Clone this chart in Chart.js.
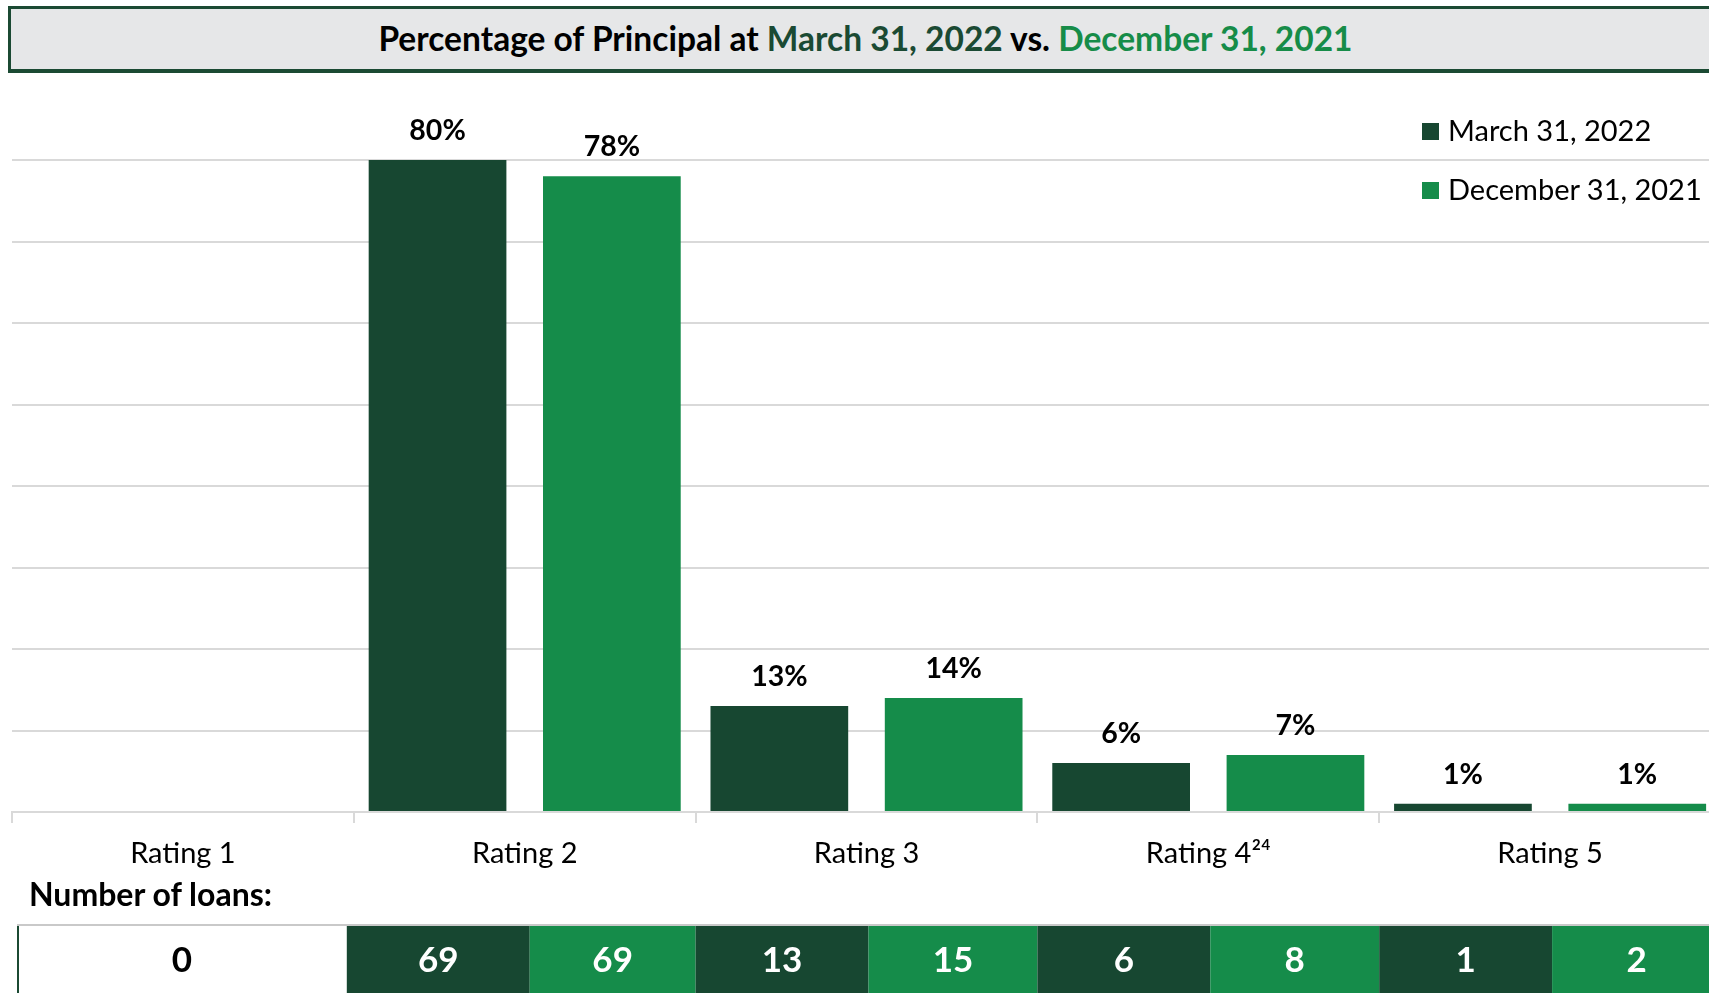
<!DOCTYPE html>
<html>
<head>
<meta charset="utf-8">
<script src="https://cdn.jsdelivr.net/npm/chart.js@4.4.1/dist/chart.umd.min.js"></script>
<style>
  html, body { margin: 0; padding: 0; background: #fff; overflow: hidden; width: 1709px; height: 993px; }
  #wrap { position: relative; width: 1709px; height: 993px; overflow: hidden; }
  #chart { position: absolute; left: 0; top: 0; }
  .title-box {
    position: absolute; left: 8px; top: 6px; width: 1720px; height: 60px;
    background: #e6e7e8; border: 3px solid #1b4a33; border-bottom-width: 4px;
    font-family: Lato, sans-serif; font-weight: bold; font-size: 33.5px;
    line-height: 60px; box-sizing: content-box;
  }
  .title-box span.t { position: absolute; left: 0; width: 1709px; text-align: center; top: -1px; color: #000; }
  .dark { color: #1a4a33; }
  .light { color: #168c48; }
  .legend { position: absolute; left: 1422px; font-family: Lato, sans-serif; font-size: 29px; color: #000; }
  .legend i { display: inline-block; width: 17px; height: 17px; margin-right: 9px; vertical-align: middle; position: relative; top: -2px; }
  .loans-title { position: absolute; left: 29px; top: 874px; font-family: Lato, sans-serif; font-weight: bold; font-size: 32px; color: #000; }
</style>
</head>
<body>
<div id="wrap">
  <canvas id="chart" width="1721" height="993" style="width:1721px;height:993px"></canvas>
  <div class="title-box"><span class="t">Percentage of Principal at <span class="dark">March 31, 2022</span> vs. <span class="light">December 31, 2021</span></span></div>
  <div class="legend" style="top:112px"><i style="background:#174731"></i>March 31, 2022</div>
  <div class="legend" style="top:171px"><i style="background:#158c4a"></i>December 31, 2021</div>
  <div class="loans-title">Number of loans:</div>
</div>
<script>
// values
const ratings = ['Rating 1', 'Rating 2', 'Rating 3', 'Rating 4\u00B2\u2074', 'Rating 5']
const pctMar2022 = [0, 80, 13, 6, 1]
const pctDec2021 = [0, 78, 14, 7, 1]
const loansMar2022 = [0, 69, 13, 6, 1]
const loansDec2021 = [0, 69, 15, 8, 2]
const yTicks = [0, 10, 20, 30, 40, 50, 60, 70, 80]

const DARK = '#174731'
const LIGHT = '#158c4a'

// percent labels above the bars
const barLabels = {
  id: 'barLabels',
  afterDatasetsDraw(chart) {
    const ctx = chart.ctx
    ctx.save()
    ctx.font = 'bold 28.5px Lato'
    ctx.fillStyle = '#000'
    ctx.textAlign = 'center'
    ctx.textBaseline = 'middle'
    chart.data.datasets.forEach((ds, di) => {
      chart.getDatasetMeta(di).data.forEach((bar, i) => {
        const v = ds.data[i]
        if (!v) return
        ctx.fillText(v + '%', bar.x, bar.y - 29)
      })
    })
    ctx.restore()
  }
}

// "Number of loans" row under the axis, cells follow the category scale
const loansRow = {
  id: 'loansRow',
  afterDraw(chart) {
    const ctx = chart.ctx
    const x = chart.scales.x
    const cw = x.getPixelForValue(1) - x.getPixelForValue(0)
    const top = 925, bottom = 1000
    // the first (empty) cell is a bit narrower than its category
    const firstEdge = x.getPixelForValue(0) + cw / 2 - 7
    ctx.save()
    ctx.font = 'bold 35px Lato'
    ctx.textAlign = 'center'
    ctx.textBaseline = 'middle'
    ratings.forEach((r, i) => {
      const c = x.getPixelForValue(i)
      let left = Math.max(c - cw / 2, 17)
      let right = c + cw / 2
      if (i === 0) right = firstEdge
      if (i === 1) left = firstEdge
      if (i === ratings.length - 1) right += 20
      if (!loansMar2022[i] && !loansDec2021[i]) {
        ctx.fillStyle = '#fff'
        ctx.fillRect(left, top, right - left, bottom - top)
        ctx.strokeStyle = '#1b4a33'
        ctx.lineWidth = 2
        ctx.beginPath()
        ctx.moveTo(left + 1, bottom)
        ctx.lineTo(left + 1, top)
        ctx.stroke()
        ctx.fillStyle = '#000'
        ctx.fillText(String(loansMar2022[i]), (left + right) / 2, 961)
        return
      }
      const mid = c + (i === 1 ? 5 : 2)
      const textRight = Math.min(right, c + cw / 2)
      ctx.fillStyle = DARK
      ctx.fillRect(left, top, mid - left, bottom - top)
      ctx.fillStyle = LIGHT
      ctx.fillRect(mid, top, right - mid, bottom - top)
      ctx.fillStyle = '#fff'
      ctx.fillText(String(loansMar2022[i]), (left + mid) / 2, 961)
      ctx.fillText(String(loansDec2021[i]), (mid + textRight) / 2, 961)
    })
    // thin line on top of the row
    ctx.strokeStyle = '#c9c9c9'
    ctx.lineWidth = 2
    ctx.beginPath()
    ctx.moveTo(17, top)
    ctx.lineTo(chart.width, top)
    ctx.stroke()
    ctx.restore()
  }
}

const data = {
  labels: ratings,
  datasets: [
    { label: 'March 31, 2022', data: pctMar2022, backgroundColor: DARK },
    { label: 'December 31, 2021', data: pctDec2021, backgroundColor: LIGHT }
  ]
}

const config = {
  type: 'bar',
  data: data,
  options: {
    responsive: false,
    animation: false,
    maintainAspectRatio: false,
    layout: { padding: { left: 12, right: 0, top: 160, bottom: 121 } },
    datasets: { bar: { categoryPercentage: 1.02, barPercentage: 0.79 } },
    plugins: { legend: { display: false }, tooltip: { enabled: false } },
    scales: {
      x: {
        offset: true,
        grid: { offset: true, drawOnChartArea: false, drawTicks: true, tickLength: 11, color: '#d9d9d9', lineWidth: 2 },
        border: { display: true, color: '#d9d9d9', width: 2 },
        ticks: { color: '#000', font: { family: 'Lato', size: 29 }, padding: 13, maxRotation: 0 },
        afterFit(scale) { scale.height = 60 }
      },
      y: {
        min: 0,
        max: 80,
        afterBuildTicks(scale) { scale.ticks = yTicks.map(v => ({ value: v })) },
        ticks: { display: false },
        grid: { color: '#d9d9d9', lineWidth: 2, drawTicks: false },
        border: { display: false },
        afterFit(scale) { scale.width = 0 }
      }
    }
  },
  plugins: [barLabels, loansRow]
}

const loansChart = new Chart(document.getElementById('chart'), config)
</script>
</body>
</html>
